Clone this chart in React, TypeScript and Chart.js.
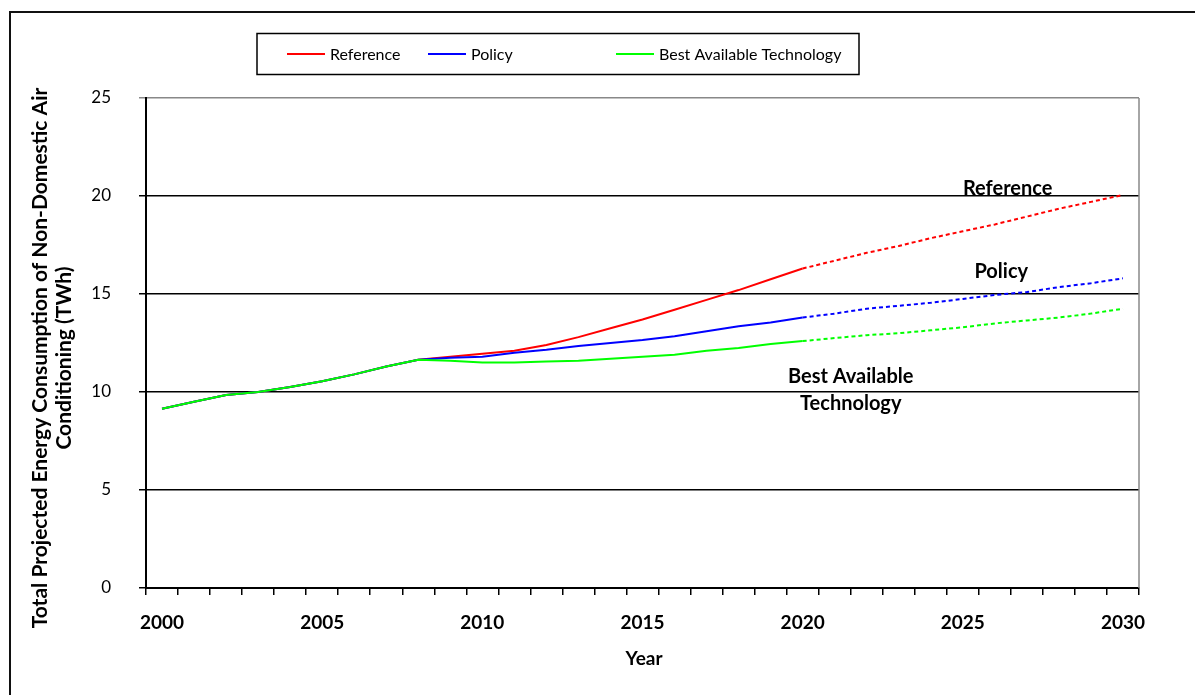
import React, { useEffect, useRef } from "react";
import { Chart, registerables } from "chart.js";

Chart.register(...registerables);

const years = [
  "2000", "2001", "2002", "2003", "2004", "2005", "2006", "2007", "2008", "2009",
  "2010", "2011", "2012", "2013", "2014", "2015", "2016", "2017", "2018", "2019",
  "2020", "2021", "2022", "2023", "2024", "2025", "2026", "2027", "2028", "2029", "2030",
];

const reference = [
  9.15, 9.5, 9.85, 10.0, 10.25, 10.55, 10.9, 11.3, 11.65, 11.8,
  11.95, 12.1, 12.4, 12.8, 13.25, 13.7, 14.2, 14.7, 15.2, 15.75,
  16.3, 16.7, 17.1, 17.45, 17.85, 18.2, 18.55, 18.95, 19.35, 19.7, 20.05,
];

const policy = [
  9.15, 9.5, 9.85, 10.0, 10.25, 10.55, 10.9, 11.3, 11.65, 11.75,
  11.8, 12.0, 12.15, 12.35, 12.5, 12.65, 12.85, 13.1, 13.35, 13.55,
  13.8, 14.0, 14.25, 14.4, 14.55, 14.75, 14.95, 15.1, 15.35, 15.55, 15.8,
];

const bestAvailable = [
  9.15, 9.5, 9.85, 10.0, 10.25, 10.55, 10.9, 11.3, 11.65, 11.6,
  11.5, 11.5, 11.55, 11.6, 11.7, 11.8, 11.9, 12.1, 12.25, 12.45,
  12.6, 12.75, 12.9, 13.0, 13.15, 13.3, 13.5, 13.65, 13.8, 14.0, 14.25,
];

const seriesNames = ["Reference", "Policy", "Best Available Technology"];
const seriesColors = ["#FF0000", "#0000FF", "#00FF00"];
const projectionStartIndex = 20;

const yTitleLines = [
  "Total Projected Energy Consumption of Non-Domestic Air",
  "Conditioning (TWh)",
];
const xTitle = "Year";

// annotations: [text, category index position, value]
const annotations: [string, number, number][] = [
  ["Reference", 26.4, 20.4],
  ["Policy", 26.2, 16.15],
  ["Best Available", 21.5, 10.8],
  ["Technology", 21.5, 9.4],
];

const FONT = "Lato, 'Open Sans', sans-serif";

const decorPlugin = {
  id: "decor",
  afterDraw(chart: any) {
    const { ctx, chartArea: ca, scales } = chart;
    ctx.save();

    // plot frame: gray right border
    ctx.strokeStyle = "#888888";
    ctx.lineWidth = 1.5;
    ctx.beginPath();
    ctx.moveTo(ca.right, ca.top);
    ctx.lineTo(ca.right, ca.bottom);
    ctx.stroke();

    // legend box
    const lx = 257, ly = 33.5, lw = 602, lh = 41;
    ctx.strokeStyle = "#000";
    ctx.lineWidth = 1.5;
    ctx.strokeRect(lx, ly, lw, lh);
    const offsets = [30, 171, 359];
    ctx.font = `16px ${FONT}`;
    ctx.textBaseline = "middle";
    ctx.textAlign = "left";
    seriesNames.forEach((name, i) => {
      const x0 = lx + offsets[i];
      const yMid = ly + lh / 2;
      ctx.strokeStyle = seriesColors[i];
      ctx.lineWidth = 2;
      ctx.beginPath();
      ctx.moveTo(x0, yMid);
      ctx.lineTo(x0 + 38, yMid);
      ctx.stroke();
      ctx.fillStyle = "#000";
      ctx.fillText(name, x0 + 43, yMid + 1);
    });

    // annotations
    ctx.font = `bold 20px ${FONT}`;
    ctx.textAlign = "center";
    ctx.fillStyle = "#000";
    annotations.forEach(([text, xi, v]) => {
      ctx.fillText(text, scales.x.getPixelForValue(xi), scales.y.getPixelForValue(v));
    });

    // axis titles
    ctx.font = `bold 19px ${FONT}`;
    ctx.fillText(xTitle, 644, 659);
    ctx.font = `bold 21px ${FONT}`;
    const yc = 358;
    [40, 64].forEach((xPos, i) => {
      ctx.save();
      ctx.translate(xPos, yc);
      ctx.rotate(-Math.PI / 2);
      ctx.fillText(yTitleLines[i], 0, 0);
      ctx.restore();
    });

    ctx.restore();
  },
};

export default function App() {
  const canvasRef = useRef<HTMLCanvasElement | null>(null);

  useEffect(() => {
    document.documentElement.style.overflow = "hidden";
    document.body.style.overflow = "hidden";
    const canvas = canvasRef.current;
    if (!canvas) return;
    const datasetsData = [reference, policy, bestAvailable];
    const chart = new Chart(canvas, {
      type: "line",
      data: {
        labels: years,
        datasets: datasetsData.map((d, i) => ({
          label: seriesNames[i],
          data: d,
          borderColor: seriesColors[i],
          backgroundColor: seriesColors[i],
          borderWidth: 2,
          pointRadius: 0,
          tension: 0,
          fill: false,
          order: 2 - i,
          segment: {
            borderDash: (c: any) => (c.p0DataIndex >= projectionStartIndex ? [4, 3] : undefined),
          },
        })),
      },
      options: {
        responsive: false,
        animation: false,
        devicePixelRatio: 1,
        layout: { padding: { top: 98, right: 56, bottom: 0, left: 0 } },
        plugins: {
          legend: { display: false },
          tooltip: { enabled: false },
        },
        scales: {
          x: {
            type: "category",
            offset: true,
            grid: {
              offset: true,
              drawOnChartArea: false,
              drawTicks: true,
              tickLength: 7,
              color: "#000",
              lineWidth: 1.5,
            },
            border: { color: "#000", width: 2 },
            ticks: {
              autoSkip: false,
              maxRotation: 0,
              minRotation: 0,
              padding: 16,
              color: "#000",
              font: { family: FONT, size: 19, weight: "bold" },
              callback: (_v: any, i: number) => (i % 5 === 0 ? years[i] : ""),
            },
            afterFit: (s: any) => {
              s.height = 107;
            },
          },
          y: {
            min: 0,
            max: 25,
            grid: {
              color: (c: any) => (c.tick && c.tick.value === 25 ? "#888888" : "#000"),
              lineWidth: 1.5,
              drawTicks: true,
              tickLength: 7,
            },
            border: { color: "#000", width: 2 },
            ticks: {
              stepSize: 5,
              padding: 28,
              color: "#000",
              font: { family: FONT, size: 17 },
            },
            afterFit: (s: any) => {
              s.width = 146;
            },
          },
        },
      },
      plugins: [decorPlugin],
    });
    return () => chart.destroy();
  }, []);

  return (
    <div style={{ position: "fixed", left: 0, top: 0, width: 1195, height: 695, background: "#fff", overflow: "hidden" }}>
      <div
        style={{
          position: "absolute",
          left: 9,
          top: 11,
          width: 1186,
          height: 684,
          borderLeft: "2px solid #111",
          borderTop: "2px solid #111",
          boxSizing: "border-box",
        }}
      />
      <canvas
        ref={canvasRef}
        width={1195}
        height={695}
        style={{ position: "absolute", left: 0, top: 0, width: 1195, height: 695 }}
      />
    </div>
  );
}
